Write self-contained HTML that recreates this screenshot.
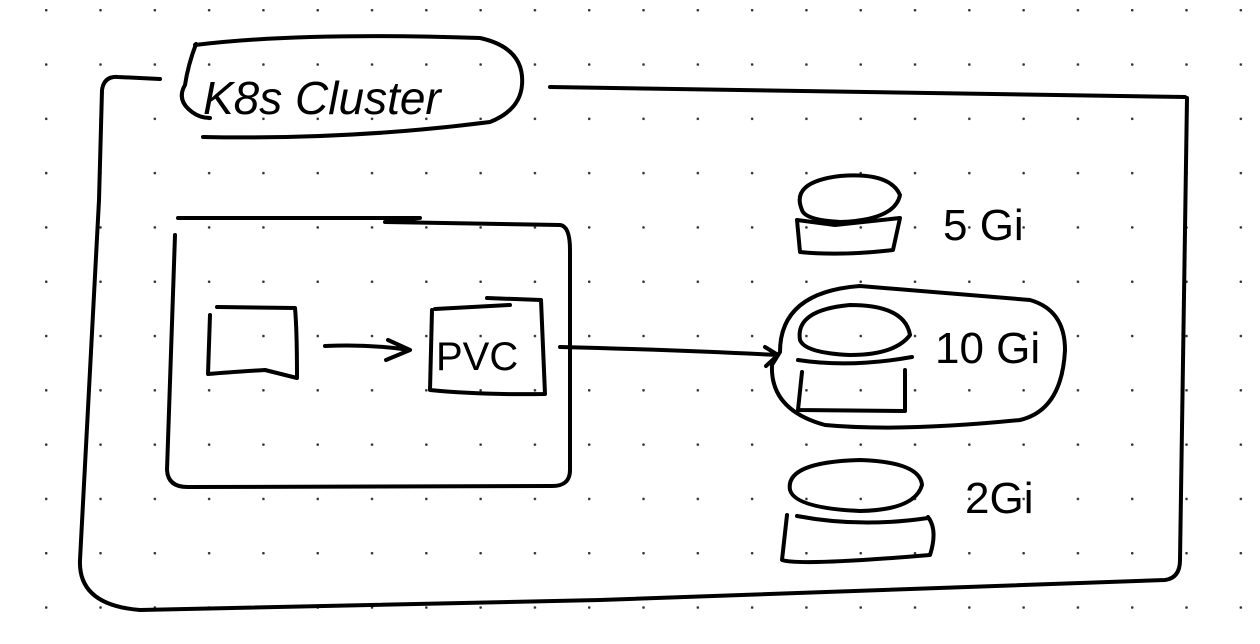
<!DOCTYPE html>
<html><head><meta charset="utf-8"><style>
html,body{margin:0;padding:0;background:#fff;}
svg{display:block;}
text{font-family:"Liberation Sans",sans-serif;fill:#000;}
</style></head><body>
<svg width="1260" height="644" viewBox="0 0 1260 644" xmlns="http://www.w3.org/2000/svg">
<defs>
<pattern id="dots" x="45" y="9" width="54.3" height="54.3" patternUnits="userSpaceOnUse">
<circle cx="1.2" cy="1.2" r="1.3" fill="#333"/>
</pattern>
</defs>
<rect width="1260" height="644" fill="url(#dots)"/>
<g fill="none" stroke="#000" stroke-width="4" stroke-linecap="round" stroke-linejoin="round">
<path d="M160 79 L118 77 Q104 76 102 90 L99 200 L80 560 Q78 605 140 610 L600 600 L1165 580 Q1180 578 1180 560 L1187 98"/>
<path d="M550 87 L1185 97"/>
<path d="M195 45 Q300 32 480 38 Q525 48 522 85 Q520 110 490 122 Q350 140 203 137"/>
<path d="M196 44 Q188 65 185 85 Q176 100 192 112 Q200 118 210 118"/>
<path d="M178 218 L420 218 L385 222 L560 225 Q570 226 570 250 L570 470 Q570 487 550 486 L190 487 Q168 488 167 470 L175 235"/>
<path d="M217 307 L295 308 Q297 330 297 378 L265 370 Q230 372 208 374 L210 315"/>
<path d="M325 346 Q370 344 410 350 M388 340 L410 350 L386 360"/>
<path d="M435 309 L510 305 M432 310 L430 390 Q480 395 545 394 L541 300 L487 298"/>
<path d="M560 347 Q680 350 778 355 M765 347 L778 355 L766 366"/>
<path d="M802 210 Q790 182 840 176 Q890 172 900 195 Q895 220 840 222 Q805 220 802 210 Z"/>
<path d="M797 220 L835 225 L900 218 L893 250 Q840 256 800 252 Z"/>
<path d="M780 352 Q780 292 860 286 L1030 300 Q1065 310 1065 350 Q1062 410 1020 420 Q900 432 825 425 Q770 410 772 365 Z"/>
<path d="M800 340 Q795 310 850 305 Q905 305 910 335 Q895 355 850 355 Q805 353 800 340 Z"/>
<path d="M798 360 Q850 368 912 357"/>
<path d="M802 372 L798 410 L905 411 L905 370"/>
<path d="M790 490 Q785 462 860 460 Q920 462 922 485 Q915 510 860 511 Q795 508 790 490 Z"/>
<path d="M797 516 Q860 528 928 518"/>
<path d="M787 515 L782 560 Q800 566 930 555 Q938 530 928 517"/>
</g>
<text x="203" y="114" font-size="46" font-style="italic">K8s Cluster</text>
<text x="436" y="370" font-size="40">PVC</text>
<text x="943" y="240" font-size="44">5 Gi</text>
<text x="935" y="363" font-size="44">10 Gi</text>
<text x="965" y="513" font-size="44">2Gi</text>
</svg>
</body></html>
